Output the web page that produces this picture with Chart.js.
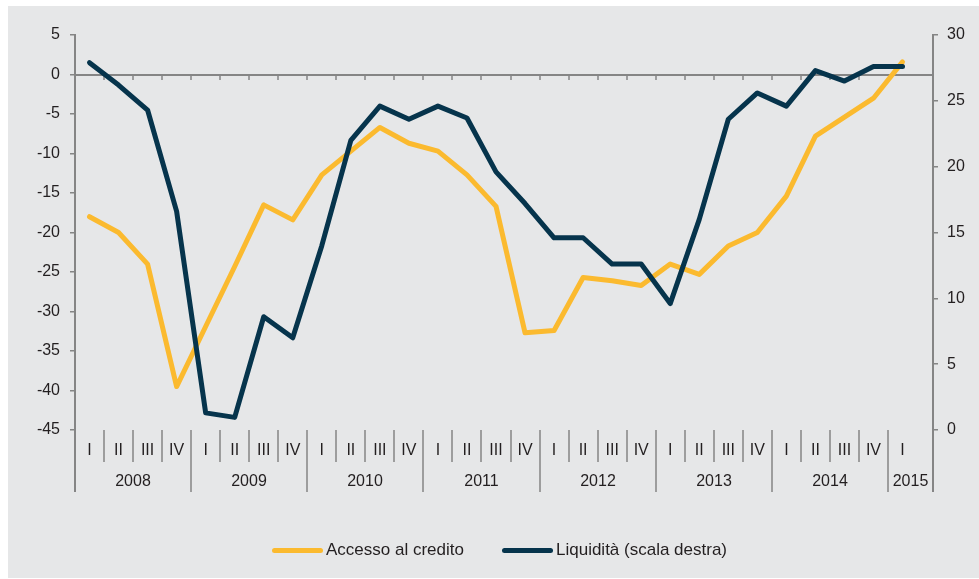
<!DOCTYPE html>
<html lang="it">
<head>
    <meta charset="UTF-8">
    <title>Accesso al credito e liquidità</title>
    <script src="https://cdn.jsdelivr.net/npm/chart.js"></script>
    <style>
        body { margin: 0; background: #ffffff; font-family: "Liberation Sans", Arial, sans-serif; }
        .panel { position: absolute; left: 8px; top: 6px; width: 971px; height: 572px; background: #e6e7e8; }
        .chart-box { position: absolute; left: 0; top: 0; width: 979px; height: 579px; }
        .legend-item { position: absolute; top: 540px; display: flex; align-items: center; font-size: 17px; color: #231f20; height: 20px; }
        .swatch { width: 51px; height: 5px; border-radius: 3px; margin-right: 3px; }
    </style>
</head>
<body>
    <div class="panel"></div>
    <div class="chart-box">
        <canvas id="lineChart"></canvas>
    </div>
    <div class="legend-item" style="left:272px"><span class="swatch" style="background:#fbba2f"></span>Accesso al credito</div>
    <div class="legend-item" style="left:502px"><span class="swatch" style="background:#06344c"></span>Liquidità (scala destra)</div>
    <script>
        // Categories
        const quarterLabels = [
            'I', 'II', 'III', 'IV',
            'I', 'II', 'III', 'IV',
            'I', 'II', 'III', 'IV',
            'I', 'II', 'III', 'IV',
            'I', 'II', 'III', 'IV',
            'I', 'II', 'III', 'IV',
            'I', 'II', 'III', 'IV',
            'I'
        ];
        const yearLabels = ['2008', '2009', '2010', '2011', '2012', '2013', '2014', '2015'];

        // Series
        const accessoCredito = [
            -18, -20, -24, -39.5,
            -31.9, -24.3, -16.5, -18.4,
            -12.7, -9.7, -6.7, -8.7,
            -9.7, -12.7, -16.7, -32.7,
            -32.4, -25.7, -26.1, -26.7,
            -24.0, -25.3, -21.7, -20.0,
            -15.4, -7.8, -5.4, -3.0,
            1.6
        ];
        const liquidita = [
            27.9, 26.2, 24.3, 16.6,
            1.3, 0.96, 8.6, 7.0,
            14.0, 22.0, 24.6, 23.6,
            24.6, 23.7, 19.6, 17.2,
            14.6, 14.6, 12.6, 12.6,
            9.6, 16.0, 23.6, 25.6,
            24.6, 27.3, 26.5, 27.6,
            27.6
        ];

        // Axis ranges
        const leftMin = -45, leftMax = 5;
        const rightMin = 0, rightMax = 30;
        const tickStep = 5;

        const axisColor = '#858585';
        const textColor = '#231f20';
        const fontFamily = '"Liberation Sans", Arial, sans-serif';

        // Zero line, category axis with quarters and years
        const axisDecor = {
            id: 'axisDecor',
            beforeDatasetsDraw(chart) {
                const { ctx, chartArea, scales: { x, y } } = chart;
                const y0 = Math.round(y.getPixelForValue(0));
                ctx.save();
                ctx.strokeStyle = axisColor;
                ctx.lineWidth = 2;
                ctx.beginPath();
                ctx.moveTo(chartArea.left, y0);
                ctx.lineTo(chartArea.right, y0);
                ctx.stroke();
                ctx.lineWidth = 1.5;
                ctx.beginPath();
                for (let i = 0; i < quarterLabels.length - 2; i++) {
                    const px = Math.round(x.getPixelForValue(i + 0.5));
                    ctx.moveTo(px, y0);
                    ctx.lineTo(px, y0 + 5);
                }
                ctx.stroke();
                ctx.restore();
            },
            afterDraw(chart) {
                const { ctx, chartArea, scales: { x } } = chart;
                const top = chartArea.bottom;
                const quarterBottom = top + 32;
                const yearBottom = top + 62;
                ctx.save();
                ctx.strokeStyle = axisColor;
                ctx.fillStyle = textColor;
                ctx.font = '16px ' + fontFamily;
                ctx.textAlign = 'center';
                ctx.textBaseline = 'middle';

                // axis extensions
                ctx.lineWidth = 2;
                ctx.beginPath();
                ctx.moveTo(chartArea.left, top);
                ctx.lineTo(chartArea.left, yearBottom);
                ctx.moveTo(chartArea.right, top);
                ctx.lineTo(chartArea.right, yearBottom);
                ctx.stroke();

                ctx.lineWidth = 1.5;
                const yearStarts = [];
                quarterLabels.forEach((q, i) => {
                    const edge = Math.round(x.getPixelForValue(i - 0.5));
                    if (q === 'I') yearStarts.push(edge);
                    if (i > 0) {
                        ctx.beginPath();
                        ctx.moveTo(edge, top);
                        ctx.lineTo(edge, q === 'I' ? yearBottom : quarterBottom);
                        ctx.stroke();
                    }
                    ctx.fillText(q, x.getPixelForValue(i), top + 21);
                });
                yearStarts.push(chartArea.right);
                yearLabels.forEach((yr, k) => {
                    ctx.fillText(yr, (yearStarts[k] + yearStarts[k + 1]) / 2, top + 52);
                });
                ctx.restore();
            }
        };

        const ctxLine = document.getElementById('lineChart').getContext('2d');
        const lineChart = new Chart(ctxLine, {
            type: 'line',
            data: {
                datasets: [
                    {
                        label: 'Accesso al credito',
                        data: accessoCredito.map((v, i) => ({ x: i, y: v })),
                        yAxisID: 'y',
                        borderColor: '#fbba2f',
                        borderWidth: 5,
                        pointRadius: 0,
                        borderJoinStyle: 'round',
                        borderCapStyle: 'round',
                        order: 1
                    },
                    {
                        label: 'Liquidità (scala destra)',
                        data: liquidita.map((v, i) => ({ x: i, y: v })),
                        yAxisID: 'y1',
                        borderColor: '#06344c',
                        borderWidth: 5,
                        pointRadius: 0,
                        borderJoinStyle: 'round',
                        borderCapStyle: 'round',
                        order: 0
                    }
                ]
            },
            options: {
                responsive: true,
                maintainAspectRatio: false,
                animation: false,
                layout: { padding: { top: 35, bottom: 149, left: 0, right: 0 } },
                plugins: {
                    legend: { display: false },
                    tooltip: { enabled: false }
                },
                scales: {
                    x: {
                        type: 'linear',
                        display: false,
                        min: -0.5,
                        max: quarterLabels.length + 0.05
                    },
                    y: {
                        position: 'left',
                        min: leftMin,
                        max: leftMax,
                        ticks: { stepSize: tickStep, color: textColor, font: { size: 16, family: fontFamily }, padding: 10 },
                        grid: { drawOnChartArea: false, tickLength: 5, color: axisColor, lineWidth: 1.5 },
                        border: { color: axisColor, width: 2 },
                        afterFit: scale => { scale.width = 75; }
                    },
                    y1: {
                        position: 'right',
                        min: rightMin,
                        max: rightMax,
                        ticks: { stepSize: tickStep, color: textColor, font: { size: 16, family: fontFamily }, padding: 9 },
                        grid: { drawOnChartArea: false, tickLength: 5, color: axisColor, lineWidth: 1.5 },
                        border: { color: axisColor, width: 2 },
                        afterFit: scale => { scale.width = 46; }
                    }
                }
            },
            plugins: [axisDecor]
        });
    </script>
</body>
</html>
